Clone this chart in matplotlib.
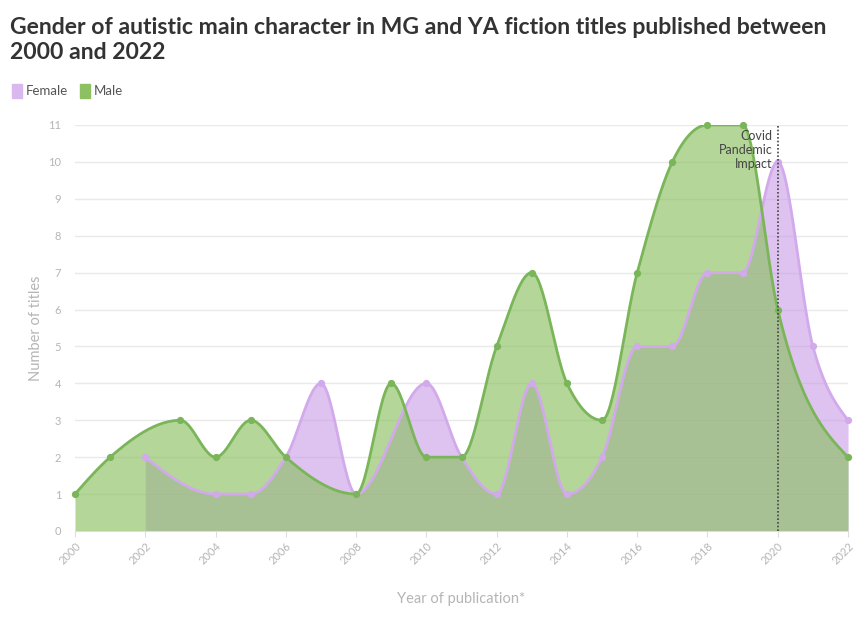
import numpy as np
import matplotlib
matplotlib.use("Agg")
import matplotlib.pyplot as plt
from matplotlib.patches import Rectangle

plt.rcParams['font.family'] = ['Lato', 'DejaVu Sans']

years = list(range(2000, 2023))
male = [1, 2, None, 3, 2, 3, 2, None, 1, 4, 2, 2, 5, 7, 4, 3, 7, 10, 11, 11, 6, None, 2]
female = [None, None, 2, None, 1, 1, 2, 4, 1, None, 4, 2, 1, 4, 1, 2, 5, 5, 7, 7, 10, 5, 3]
xticks = list(range(2000, 2023, 2))
yticks = list(range(0, 12))

FEMALE_FILL = '#c89be6'
MALE_FILL = '#8cc063'
FEMALE_LINE = '#d2aaec'
MALE_LINE = '#7ab659'
GREY = '#b5b5b5'


def monotone_x(xs, ys, n=30):
    # d3 curveMonotoneX (Steffen) drawn as cubic beziers
    xs = np.asarray(xs, float)
    ys = np.asarray(ys, float)
    h = np.diff(xs)
    s = np.diff(ys) / h
    m = len(xs)
    t = np.zeros(m)
    for i in range(1, m - 1):
        p = (s[i - 1] * h[i] + s[i] * h[i - 1]) / (h[i - 1] + h[i])
        t[i] = (np.sign(s[i - 1]) + np.sign(s[i])) * min(abs(s[i - 1]), abs(s[i]), 0.5 * abs(p))
    t[0] = (3 * s[0] - t[1]) / 2
    t[-1] = (3 * s[-1] - t[-2]) / 2
    px, py = [], []
    u = np.linspace(0, 1, n)
    for i in range(m - 1):
        dx = h[i] / 3
        x0, x1, x2, x3 = xs[i], xs[i] + dx, xs[i + 1] - dx, xs[i + 1]
        y0, y1, y2, y3 = ys[i], ys[i] + dx * t[i], ys[i + 1] - dx * t[i + 1], ys[i + 1]
        bx = (1 - u) ** 3 * x0 + 3 * (1 - u) ** 2 * u * x1 + 3 * (1 - u) * u ** 2 * x2 + u ** 3 * x3
        by = (1 - u) ** 3 * y0 + 3 * (1 - u) ** 2 * u * y1 + 3 * (1 - u) * u ** 2 * y2 + u ** 3 * y3
        px.extend(bx)
        py.extend(by)
    return np.array(px), np.array(py)


fig = plt.figure(figsize=(8.56, 6.18), dpi=100)
ax = fig.add_axes([0.0876, 0.1408, 0.9031, 0.657])

series = [('Female', female, FEMALE_FILL, 0.6, FEMALE_LINE),
          ('Male', male, MALE_FILL, 0.65, MALE_LINE)]
curves = []
for name, vals, fill, alpha, line in series:
    xs = [y for y, v in zip(years, vals) if v is not None]
    ys = [v for v in vals if v is not None]
    cx, cy = monotone_x(xs, ys)
    ax.fill_between(cx, 0, cy, color=fill, alpha=alpha, linewidth=0, zorder=2)
    curves.append((cx, cy, xs, ys, line))

for cx, cy, xs, ys, line in curves:
    ax.plot(cx, cy, color=line, lw=2.0, zorder=4, solid_capstyle='round')
    ax.plot(xs, ys, 'o', color=line, ms=4.2, zorder=5, clip_on=False)

# covid marker
ax.plot([2020, 2020], [0, 11], color='#444444', lw=1.2, ls=(0, (1, 1.2)), zorder=6)
ax.text(2019.85, 10.85, 'Covid\nPandemic\nImpact', ha='right', va='top',
        fontsize=9, color='#444444', linespacing=1.2, zorder=7)

ax.set_xlim(2000, 2022)
ax.set_ylim(0, 11)
ax.set_yticks(yticks)
ax.set_xticks(xticks)
ax.set_xticklabels([str(x) for x in xticks], rotation=45, ha='right', rotation_mode='anchor')
ax.tick_params(axis='y', length=0, pad=10, labelsize=8, labelcolor=GREY)
ax.tick_params(axis='x', length=4, color='#dddddd', pad=3, labelsize=8, labelcolor=GREY)
ax.grid(axis='y', color='#e9e9e9', lw=1, zorder=0)
for sp in ['top', 'right', 'left']:
    ax.spines[sp].set_visible(False)
ax.spines['bottom'].set_color('#dddddd')
ax.set_axisbelow(True)

ax.set_ylabel('Number of titles', fontsize=10.5, color=GREY, labelpad=4)
ax.set_xlabel('Year of publication*', fontsize=10.5, color=GREY, labelpad=18)

fig.text(0.0117, 0.972, 'Gender of autistic main character in MG and YA fiction titles published between\n2000 and 2022',
         fontsize=16.6, fontweight='bold', color='#333333', ha='left', va='top', linespacing=1.22)

# legend
for lx, label, col in [(12, 'Female', '#d9b8f0'), (80, 'Male', '#8cc063')]:
    fig.patches.append(Rectangle((lx / 856, 1 - 98 / 618), 10 / 856, 14 / 618,
                                 transform=fig.transFigure, color=col))
    fig.text((lx + 14) / 856, 1 - 91 / 618, label, fontsize=9.5, color='#555555', va='center')

fig.savefig('out.png', dpi=100)
